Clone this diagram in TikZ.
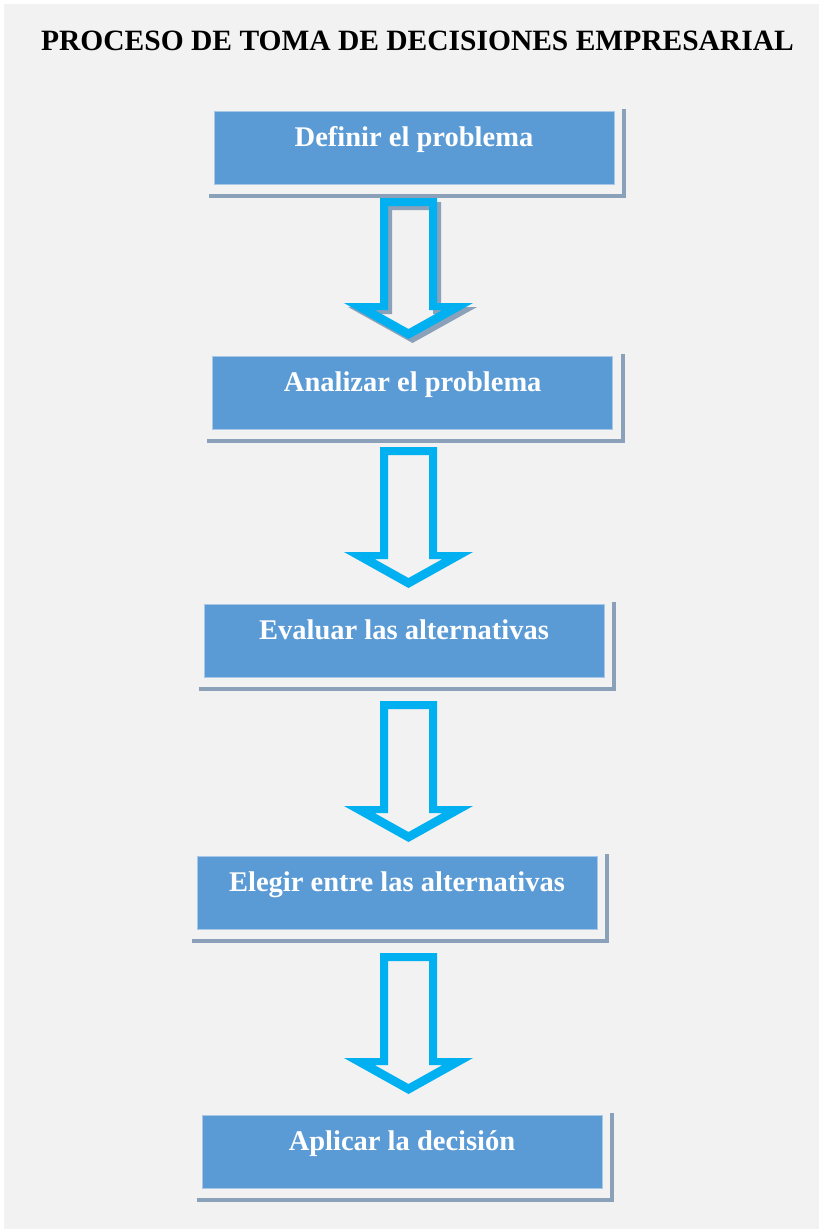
\documentclass[tikz,border=0pt]{standalone}
\usepackage{fontspec}
\setmainfont{Liberation Serif}
\usetikzlibrary{positioning}

\definecolor{fondo}{HTML}{F2F2F2}
\definecolor{azulcaja}{HTML}{5B9BD5}
\definecolor{bordecaja}{HTML}{A9C8E8}
\definecolor{sombra}{HTML}{8AA1B9}
\definecolor{cian}{HTML}{00B0F0}

\tikzset{
  paso/.style={rectangle, fill=azulcaja, draw=bordecaja, line width=0.8pt,
    minimum width=400pt, minimum height=73pt, inner ysep=0pt,
    text height=20pt, text depth=22pt, text=white,
    font=\fontsize{28.5}{34}\selectfont\bfseries},
  sombralinea/.style={draw=sombra, line width=4pt},
  pics/flecha/.style={code={
    \fill[pic actions, even odd rule]
      (-28.5,0) -- (28.5,0) -- (28.5,-105) -- (64.5,-105) -- (0,-141)
      -- (-64.5,-105) -- (-28.5,-105) -- cycle
      (-20.5,-8) -- (20.5,-8) -- (20.5,-112) -- (34,-112) -- (0,-131)
      -- (-34,-112) -- (-20.5,-112) -- cycle;
  }}
}

\begin{document}
\begin{tikzpicture}[x=1pt,y=1pt]
\fill[white] (0,0) rectangle (819,-1229);
\fill[fondo] (4,-4) rectangle (819,-1229);
\useasboundingbox (0,0) rectangle (819,-1229);

\coordinate (T) at (417.5,-50);
\coordinate (A) at (414,-147.5);
\coordinate (B) at (412.7,-392.5);
\coordinate (C) at (404,-640.5);
\coordinate (D) at (397,-892.5);
\coordinate (E) at (402,-1151.5);
\coordinate (a1) at (408.5,-198);
\coordinate (a2) at (408.5,-447);
\coordinate (a3) at (408.5,-701);
\coordinate (a4) at (408.5,-953);

\node[anchor=base, font=\fontsize{29.5}{35}\selectfont\bfseries] (titulo) at (T) {PROCESO DE TOMA DE DECISIONES EMPRESARIAL};

\node[paso] (b1) at (A) {Definir el problema};
\node[paso] (b2) at (B) {Analizar el problema};
\node[paso] (b3) at (C) {Evaluar las alternativas};
\node[paso] (b4) at (D) {Elegir entre las alternativas};
\node[paso] (b5) at (E) {Aplicar la decisión};

% L-shaped shadow right and below each box
\foreach \b in {b1,b2,b3,b4,b5}
  \draw[sombralinea] ([shift={(-5,-11.5)}]\b.south west) -| ([shift={(9.5,2)}]\b.north east);

\pic[fill=sombra] at ([shift={(4,-4)}]a1) {flecha};
\pic[fill=cian] at (a1) {flecha};
\pic[fill=cian] at (a2) {flecha};
\pic[fill=cian] at (a3) {flecha};
\pic[fill=cian] at (a4) {flecha};

\end{tikzpicture}
\end{document}
